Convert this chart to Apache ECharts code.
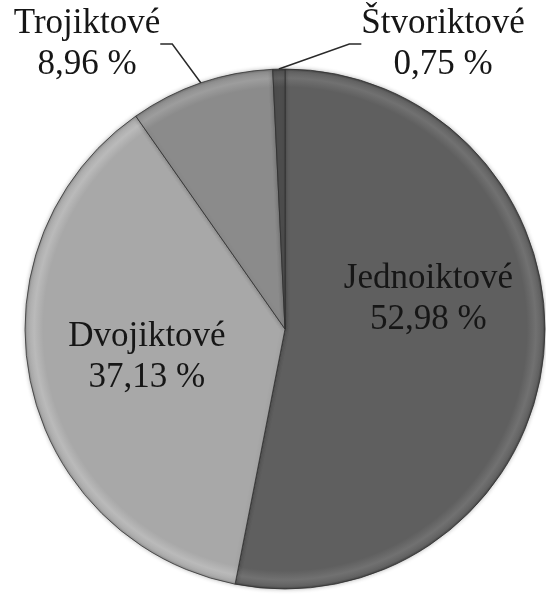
<!DOCTYPE html>
<html>
<head>
<meta charset="utf-8">
<script src="https://cdn.jsdelivr.net/npm/echarts@6/dist/echarts.min.js"></script>
<style>
  html, body { margin: 0; padding: 0; background: #ffffff; }
  #chart { width: 546px; height: 594px; }
</style>
</head>
<body>
<div id="chart"></div>
<script>
// Share of word forms by number of ictus (percent)
const categories = ['Jednoiktové', 'Dvojiktové', 'Trojiktové', 'Štvoriktové'];
const shares = [52.98, 37.13, 8.96, 0.75];
const baseColors = ['#5f5f5f', '#a8a8a8', '#8b8b8b', '#4e4e4e'];
const outsideLabel = [false, false, true, true];

const CX = 285, CY = 329, R = 260;
const SERIF = 'Liberation Serif';

function shade(hex, d) {
  const n = parseInt(hex.slice(1), 16);
  const c = [(n >> 16) & 255, (n >> 8) & 255, n & 255].map(v => Math.max(0, Math.min(255, v + d)));
  return 'rgb(' + c.join(',') + ')';
}

// Flat face with a soft bevelled rim
function sliceFill(hex) {
  return {
    type: 'radial', x: CX, y: CY, r: R, global: true,
    colorStops: [
      { offset: 0, color: hex },
      { offset: 0.93, color: hex },
      { offset: 0.965, color: shade(hex, 18) },
      { offset: 0.99, color: shade(hex, 4) },
      { offset: 1, color: shade(hex, -25) }
    ]
  };
}

const fmt = v => v.toFixed(2).replace('.', ',') + ' %';

// Outside captions get extra top padding so the leader meets the first line
const data = categories.map((name, i) => ({
  name: name,
  value: shares[i],
  itemStyle: { color: sliceFill(baseColors[i]) },
  label: outsideLabel[i]
    ? { position: 'outside', padding: [16, 0, 0, 0] }
    : { position: 'inside' },
  labelLine: { show: outsideLabel[i] }
}));

const chart = echarts.init(document.getElementById('chart'), null, { renderer: 'canvas' });

chart.setOption({
  backgroundColor: '#ffffff',
  animation: false,
  textStyle: { fontFamily: SERIF },
  series: [{
    type: 'pie',
    center: [CX, CY],
    radius: [0, R],
    startAngle: 90,
    clockwise: true,
    avoidLabelOverlap: false,
    data: data,
    itemStyle: {
      borderColor: 'rgba(45,45,45,0.75)',
      borderWidth: 1,
      shadowBlur: 4,
      shadowColor: 'rgba(0,0,0,0.25)'
    },
    emphasis: { disabled: true },
    label: {
      show: true,
      formatter: p => p.name + '\n' + fmt(p.value),
      fontFamily: SERIF,
      fontSize: 35,
      lineHeight: 41,
      color: '#161616',
      align: 'center'
    },
    labelLine: {
      show: true,
      length: 20,
      length2: 12,
      lineStyle: { color: '#2a2a2a', width: 1.5 }
    },
    labelLayout: function (params) {
      switch (params.dataIndex) {
        case 0: return { dx: 11, dy: -43 };
        case 1: return { dx: -8, dy: 1 };
        case 2: return { x: 87, y: 44, align: 'center', verticalAlign: 'middle' };
        case 3: return { x: 443, y: 44, align: 'center', verticalAlign: 'middle' };
      }
      return {};
    }
  }]
});
</script>
</body>
</html>
